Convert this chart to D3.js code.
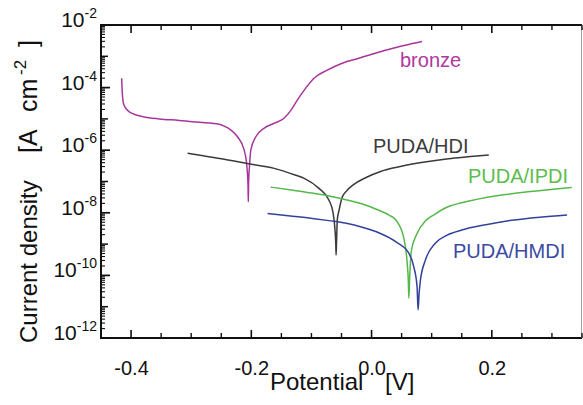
<!DOCTYPE html>
<html>
<head>
<meta charset="utf-8">
<script src="https://cdn.jsdelivr.net/npm/d3@7"></script>
<style>
  html, body { margin: 0; padding: 0; background: #fff; }
  svg { display: block; font-family: "Liberation Sans", Arial, sans-serif; }
</style>
</head>
<body>
<svg id="chart" width="583" height="405"></svg>
<script>
// ---- data: potential [V] and log10 of current density [A cm^-2] ----
const bronze = [
  [-0.4156,-3.70],[-0.4145,-4.20],[-0.412,-4.55],[-0.405,-4.74],[-0.395,-4.85],[-0.380,-4.93],
  [-0.353,-5.00],[-0.320,-5.05],[-0.298,-5.09],[-0.270,-5.13],[-0.253,-5.17],[-0.2451,-5.23],
  [-0.235,-5.34],[-0.223,-5.57],[-0.212,-5.99],[-0.2075,-6.50],[-0.2055,-7.10],[-0.205,-7.65],
  [-0.2045,-7.05],[-0.203,-6.50],[-0.2008,-5.99],[-0.1925,-5.57],[-0.179,-5.30],[-0.162,-5.14],
  [-0.1456,-4.98],[-0.134,-4.72],[-0.1235,-4.40],[-0.112,-4.08],[-0.0958,-3.70],[-0.0737,-3.44],
  [-0.0488,-3.22],[-0.021,-3.06],[0.010,-2.88],[0.034,-2.75],[0.060,-2.63],[0.084,-2.53]
];
const pudaHDI = [
  [-0.306,-6.10],[-0.280,-6.18],[-0.245,-6.29],[-0.209,-6.42],[-0.162,-6.58],[-0.126,-6.80],
  [-0.112,-6.90],[-0.0875,-7.22],[-0.071,-7.59],[-0.064,-8.00],[-0.061,-8.50],[-0.0595,-9.00],
  [-0.059,-9.35],[-0.0582,-8.90],[-0.057,-8.23],[-0.054,-7.91],[-0.0488,-7.50],[-0.043,-7.33],
  [-0.030,-7.10],[-0.010,-6.88],[0.015,-6.68],[0.040,-6.55],[0.080,-6.40],[0.128,-6.27],
  [0.160,-6.21],[0.195,-6.15]
];
const pudaIPDI = [
  [-0.1677,-7.18],[-0.130,-7.28],[-0.0986,-7.37],[-0.071,-7.46],[-0.043,-7.58],[-0.015,-7.72],
  [0.012,-7.92],[0.030,-8.08],[0.040,-8.22],[0.0536,-8.80],[0.059,-9.55],[0.0612,-10.2],
  [0.062,-10.73],[0.0635,-10.0],[0.0664,-9.19],[0.0757,-8.66],[0.0896,-8.26],[0.105,-8.05],
  [0.128,-7.80],[0.150,-7.68],[0.211,-7.45],[0.260,-7.33],[0.333,-7.19]
];
const pudaHMDI = [
  [-0.173,-8.02],[-0.135,-8.10],[-0.0986,-8.18],[-0.071,-8.25],[-0.040,-8.34],[-0.0156,-8.46],
  [0.010,-8.62],[0.040,-8.92],[0.062,-9.29],[0.0702,-9.72],[0.0757,-10.36],[0.0774,-11.10],
  [0.079,-10.6],[0.0813,-10.15],[0.0896,-9.51],[0.106,-8.97],[0.125,-8.72],[0.150,-8.55],
  [0.190,-8.38],[0.233,-8.24],[0.280,-8.14],[0.325,-8.07]
];
const seriesNames = ["bronze", "PUDA/HDI", "PUDA/IPDI", "PUDA/HMDI"];
const xTickValues = [-0.4, -0.2, 0.0, 0.2];
const xTickLabels = ["-0.4", "-0.2", "0.0", "0.2"];
const yTickExponents = [-2, -4, -6, -8, -10, -12];

// ---- layout ----
const svg = d3.select("#chart");
const L = 101, R = 582, T = 25, B = 338;
const xs = d3.scaleLinear().domain([-0.45, 0.35]).range([L, R]);
const ys = d3.scaleLog().domain([1e-12, 1e-2]).range([B, T]);

const xMinor = d3.range(-9, 8).map(i => i * 0.05).filter(v => !xTickValues.some(t => Math.abs(t - v) < 1e-9));
const evenDec = yTickExponents.map(e => Math.pow(10, e));
const oddDec = [-3, -5, -7, -9, -11].map(e => Math.pow(10, e));
const yMinor = [];
for (let e = -12; e < -2; e++) for (let m = 2; m <= 9; m++) yMinor.push(m * Math.pow(10, e));

// ---- frame as filled rectangles ----
const frame = svg.append("g").attr("fill", "#111");
frame.append("rect").attr("x", xs(-0.45)).attr("y", ys(1e-2) - 1).attr("width", xs(0.35) - xs(-0.45)).attr("height", 2);
frame.append("rect").attr("x", xs(-0.45)).attr("y", ys(1e-12) - 1).attr("width", xs(0.35) - xs(-0.45)).attr("height", 2);
frame.append("rect").attr("x", xs(-0.45) - 1).attr("y", ys(1e-2) - 1).attr("width", 2).attr("height", ys(1e-12) - ys(1e-2) + 2);
frame.append("rect").attr("x", xs(0.35) - 1).attr("y", ys(1e-2)).attr("width", 1).attr("height", ys(1e-12) - ys(1e-2))
  .attr("fill", "#a0a0a0");

// ---- inward ticks as thin filled rectangles bound to tick values ----
const tickSpecs = [
  { vals: xTickValues, len: 8, w: 1.6, axis: "x" },
  { vals: xMinor, len: 5, w: 1.4, axis: "x" },
  { vals: evenDec, len: 9, w: 1.7, axis: "y" },
  { vals: oddDec, len: 7, w: 1.5, axis: "y" },
  { vals: yMinor, len: 4, w: 1.1, axis: "y" }
];
tickSpecs.forEach(s => {
  if (s.axis === "x") {
    frame.selectAll(null).data(s.vals).join("rect")
      .attr("x", d => xs(d) - s.w / 2).attr("y", ys(1e-12) - s.len).attr("width", s.w).attr("height", s.len);
    frame.selectAll(null).data(s.vals).join("rect")
      .attr("x", d => xs(d) - s.w / 2).attr("y", ys(1e-2)).attr("width", s.w).attr("height", s.len);
  } else {
    frame.selectAll(null).data(s.vals).join("rect")
      .attr("x", xs(-0.45)).attr("y", d => ys(d) - s.w / 2).attr("width", s.len).attr("height", s.w);
  }
});

// ---- x tick labels via d3 axis (lines hidden, frame drawn above) ----
const gxb = svg.append("g").attr("transform", `translate(0,${B})`)
  .call(d3.axisBottom(xs).tickValues(xTickValues).tickSizeInner(0).tickSizeOuter(0).tickPadding(23)
    .tickFormat((d, i) => xTickLabels[i]));
gxb.select(".domain").remove();
gxb.selectAll(".tick line").remove();
gxb.selectAll("text").attr("font-size", 20).attr("fill", "#111").attr("font-family", "Liberation Sans, Arial, sans-serif");

// ---- y tick labels with superscripts ----
const ylab = svg.append("g").attr("fill", "#111");
yTickExponents.forEach(e => {
  const t = ylab.append("text").attr("x", 97).attr("y", ys(Math.pow(10, e)) + 2)
    .attr("text-anchor", "end");
  t.append("tspan").attr("font-size", 21).text("10");
  t.append("tspan").attr("font-size", 14).attr("dy", -9).text(String(e));
});

// ---- axis titles ----
svg.append("text").attr("x", 270).attr("y", 390).attr("font-size", 24).attr("fill", "#111").text("Potential");
svg.append("text").attr("x", 385).attr("y", 390).attr("font-size", 24).attr("fill", "#111").text("[V]");

const yt = svg.append("text").attr("transform", "translate(37,343) rotate(-90)")
  .attr("font-size", 24).attr("fill", "#111");
yt.append("tspan").attr("x", 0).text("Current density");
yt.append("tspan").attr("x", 190).attr("font-size", 25).text("[A");
yt.append("tspan").attr("x", 231).attr("font-size", 25).text("cm");
yt.append("tspan").attr("x", 268).attr("font-size", 17).attr("dy", -11).text("-2");
yt.append("tspan").attr("x", 296).attr("font-size", 25).attr("dy", 11).text("]");

// ---- curves ----
const lineGen = d3.line().x(d => xs(d[0])).y(d => ys(Math.pow(10, d[1]))).curve(d3.curveMonotoneX);
const curves = [
  { data: bronze, color: "#a8369a" },
  { data: pudaHDI, color: "#3a3a3a" },
  { data: pudaIPDI, color: "#55b84a" },
  { data: pudaHMDI, color: "#34419c" }
];
curves.forEach(c => {
  svg.append("path").datum(c.data).attr("d", lineGen).attr("fill", "none")
    .attr("stroke", c.color).attr("stroke-width", 1.5);
});

// ---- series labels ----
const labels = [
  { text: seriesNames[0], x: 400, y: 67, color: "#b0399e" },
  { text: seriesNames[1], x: 373, y: 153, color: "#3c3c3c" },
  { text: seriesNames[2], x: 468, y: 183, color: "#5cbd4e" },
  { text: seriesNames[3], x: 453, y: 258, color: "#3b4ba3" }
];
labels.forEach(l => {
  svg.append("text").attr("x", l.x).attr("y", l.y).attr("font-size", 20)
    .attr("fill", l.color).text(l.text);
});
</script>
</body>
</html>
